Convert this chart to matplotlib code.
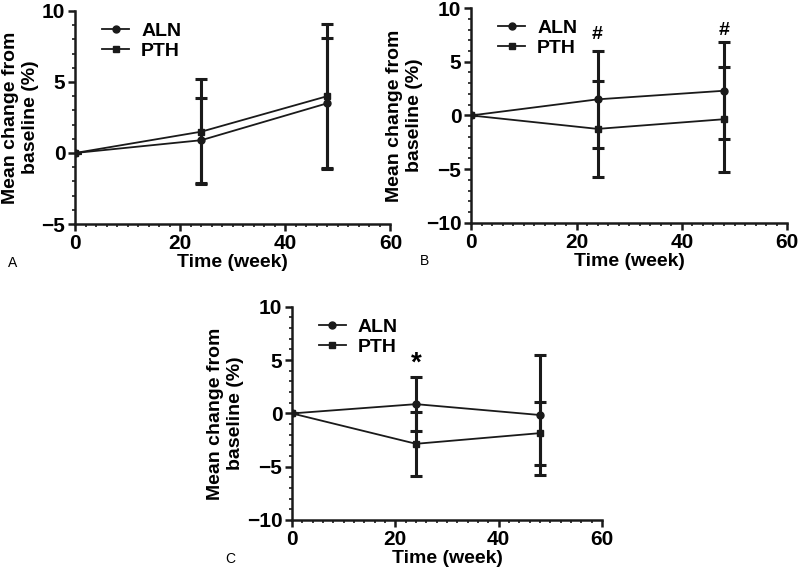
import numpy as np
import matplotlib.pyplot as plt
from matplotlib.ticker import MultipleLocator
from matplotlib.lines import Line2D

plt.rcParams['font.family'] = ['Liberation Sans', 'DejaVu Sans']

weeks = [0, 24, 48]

# panel A
a_aln = [0, 0.9, 3.5]
a_aln_sd = [0, 3.0, 4.6]
a_pth = [0, 1.5, 4.0]
a_pth_sd = [0, 3.7, 5.05]

# panel B
b_aln = [0, 1.5, 2.3]
b_aln_sd = [0, 4.5, 4.5]
b_pth = [0, -1.25, -0.35]
b_pth_sd = [0, 4.5, 4.9]

# panel C
c_aln = [0, 0.87, -0.15]
c_aln_sd = [0, 2.53, 5.63]
c_pth = [0, -2.85, -1.85]
c_pth_sd = [0, 3.0, 2.95]

fig = plt.figure(figsize=(8, 5.73), dpi=100)
axA = fig.add_axes([0.094, 0.609, 0.394, 0.372])
axB = fig.add_axes([0.589, 0.611, 0.395, 0.375])
axC = fig.add_axes([0.365, 0.0925, 0.3875, 0.372])

col = '#1a1a1a'


def draw(ax, aln, aln_sd, pth, pth_sd, ylim, yticks):
	ax.errorbar(weeks, pth, yerr=pth_sd, color=col, lw=1.3, marker='s', ms=5,
		elinewidth=2.2, capsize=4, capthick=2.2)
	ax.errorbar(weeks, aln, yerr=aln_sd, color=col, lw=1.3, marker='o', ms=5,
		elinewidth=2.2, capsize=4, capthick=2.2)
	ax.set_xlim(0, 60)
	ax.set_ylim(*ylim)
	ax.set_xticks([0, 20, 40, 60])
	ax.set_yticks(yticks)
	ax.xaxis.set_minor_locator(MultipleLocator(2))
	ax.yaxis.set_minor_locator(MultipleLocator(1))
	for s in ['top', 'right']:
		ax.spines[s].set_visible(False)
	for s in ['left', 'bottom']:
		ax.spines[s].set_linewidth(1.8)
		ax.spines[s].set_color(col)
	ax.tick_params(which='major', length=5, width=1.8, labelsize=15, pad=2, color=col)
	ax.tick_params(which='minor', length=2.5, width=1.2, color=col)
	for lab in ax.get_xticklabels() + ax.get_yticklabels():
		lab.set_fontweight('bold')
	ax.set_xlabel('Time (week)', fontsize=14, fontweight='bold', labelpad=1)
	ax.set_ylabel('Mean change from\nbaseline (%)', fontsize=14, fontweight='bold', labelpad=2)
	handles = [Line2D([], [], color=col, lw=1.3, marker='o', ms=5),
		Line2D([], [], color=col, lw=1.3, marker='s', ms=5)]
	ax.legend(handles, ['ALN', 'PTH'], loc='upper left', bbox_to_anchor=(0.03, 1.03), frameon=False,
		handlelength=1.4, handletextpad=0.6, labelspacing=0.15,
		prop={'weight': 'bold', 'size': 14})


draw(axA, a_aln, a_aln_sd, a_pth, a_pth_sd, (-5, 10), [-5, 0, 5, 10])
draw(axB, b_aln, b_aln_sd, b_pth, b_pth_sd, (-10, 10), [-10, -5, 0, 5, 10])
draw(axC, c_aln, c_aln_sd, c_pth, c_pth_sd, (-10, 10), [-10, -5, 0, 5, 10])

axB.text(24, 7.5, '#', ha='center', va='center', fontsize=14, fontweight='bold')
axB.text(48, 7.9, '#', ha='center', va='center', fontsize=14, fontweight='bold')
axC.text(24, 4.7, '*', ha='center', va='center', fontsize=20, fontweight='bold')

fig.text(0.01, 0.534, 'A', fontsize=10)
fig.text(0.525, 0.5375, 'B', fontsize=10)
fig.text(0.281, 0.0175, 'C', fontsize=10)

fig.savefig('out.png', dpi=100)
